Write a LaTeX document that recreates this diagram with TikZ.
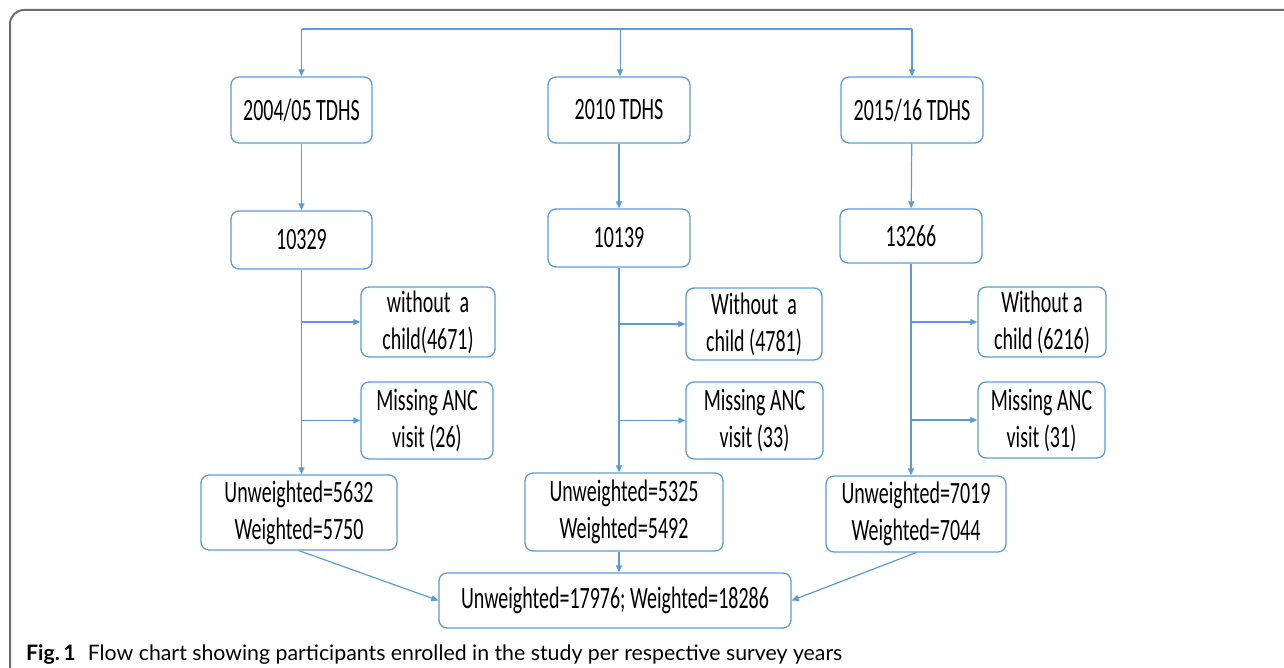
\documentclass[tikz,border=0pt]{standalone}
\usepackage{fontspec}
\setmainfont{Carlito}[FakeStretch=0.645]
\newfontfamily\capfont{Lato}
\usepackage{tikz}
\usetikzlibrary{positioning, calc, arrows.meta}

\definecolor{boxblue}{HTML}{5B9BD5}
\definecolor{framegray}{HTML}{6E6E6E}

\tikzset{
  box/.style={draw=boxblue, line width=1.3pt, rounded corners=8pt, align=center,
    inner sep=0pt, font=\fontsize{31}{37}\selectfont},
  arr/.style={draw=boxblue, line width=1.2pt, -{Triangle[length=7pt,width=6pt]}},
  ln/.style={draw=boxblue, line width=1.2pt}
}

\begin{document}
\begin{tikzpicture}[x=1pt,y=-1pt]
      \useasboundingbox (0,0) rectangle (1284,668);

      % 枠
      \draw[framegray, line width=2pt, rounded corners=14pt] (10,670) -- (10,10) -- (1284,10);

      % 調査年
      \node[box, minimum width=141pt, minimum height=66pt] (a1) at (301.5,110) {2004/05 TDHS};
      \node[box, minimum width=142pt, minimum height=66pt] (b1) at (619,110) {2010 TDHS};
      \node[box, minimum width=142pt, minimum height=66pt] (c1) at (912,110) {2015/16 TDHS};

      % 人数
      \node[box, minimum width=141pt, minimum height=58pt] (a2) at (301.5,240) {10329};
      \node[box, minimum width=142pt, minimum height=58pt] (b2) at (619,238) {10139};
      \node[box, minimum width=142pt, minimum height=54pt] (c2) at (911,236) {13266};

      % 除外
      \node[box, minimum width=134pt, minimum height=70pt] (a3) at (428,322) {without~~a\\child(4671)};
      \node[box, minimum width=136pt, minimum height=72pt] (b3) at (754,324) {Without~~a\\child (4781)};
      \node[box, minimum width=128pt, minimum height=70pt] (c3) at (1042,322) {Without a\\child (6216)};
      \node[box, minimum width=132pt, minimum height=77pt] (a4) at (427,420.5) {Missing ANC\\visit (26)};
      \node[box, minimum width=137pt, minimum height=77pt] (b4) at (754.5,420.5) {Missing ANC\\visit (33)};
      \node[box, minimum width=127pt, minimum height=76pt] (c4) at (1041.5,420) {Missing ANC\\visit (31)};

      % 結果
      \node[box, minimum width=196pt, minimum height=75pt] (a5) at (299,512.5) {Unweighted=5632\\Weighted=5750};
      \node[box, minimum width=198pt, minimum height=78pt] (b5) at (624,512) {Unweighted=5325\\Weighted=5492};
      \node[box, minimum width=180pt, minimum height=76pt] (c5) at (916,514) {Unweighted=7019\\Weighted=7044};
      \node[box, minimum width=352pt, minimum height=55pt] (tot) at (615,600.5) {Unweighted=17976; Weighted=18286};

      % 矢印
      \coordinate (top) at (620,29);
      \draw[ln] (a1.north |- top) -- (c1.north |- top);
      \draw[arr] (a1.north |- top) -- (a1.north);
      \draw[arr, line width=0.7pt] (top) -- (top |- b1.north);
      \draw[arr] (c1.north |- top) -- (c1.north);
      \draw[arr] (a1) -- (a2);
      \draw[arr] (b1) -- (b2);
      \draw[arr] (c1) -- (c2);
      \draw[arr] (a2.south) -- (a2.south |- a5.north);
      \draw[arr] (b2.south) -- (b2.south |- b5.north);
      \draw[arr] (c2.south) -- (c2.south |- c5.north);
      \draw[arr] (a2.south |- a3.west) -- (a3.west);
      \draw[arr] (a2.south |- a4.west) -- (a4.west);
      \draw[arr] (b2.south |- b3.west) -- (b3.west);
      \draw[arr] (b2.south |- b4.west) -- (b4.west);
      \draw[arr] (c2.south |- c3.west) -- (c3.west);
      \draw[arr] (c2.south |- c4.west) -- (c4.west);
      \draw[arr] (b2.south |- b5.south) -- (b2.south |- tot.north);
      \draw[arr] (a5.south) -- (tot.west);
      \draw[arr] (c5.south) -- (tot.east);

      % キャプション
      \node[anchor=base west, inner sep=0pt, font=\capfont\fontsize{21.3}{25}\selectfont] (cap) at (26,660)
        {\textbf{Fig.\,1}\hspace{12pt}Flow chart showing participants enrolled in the study per respective survey years};
\end{tikzpicture}
\end{document}
